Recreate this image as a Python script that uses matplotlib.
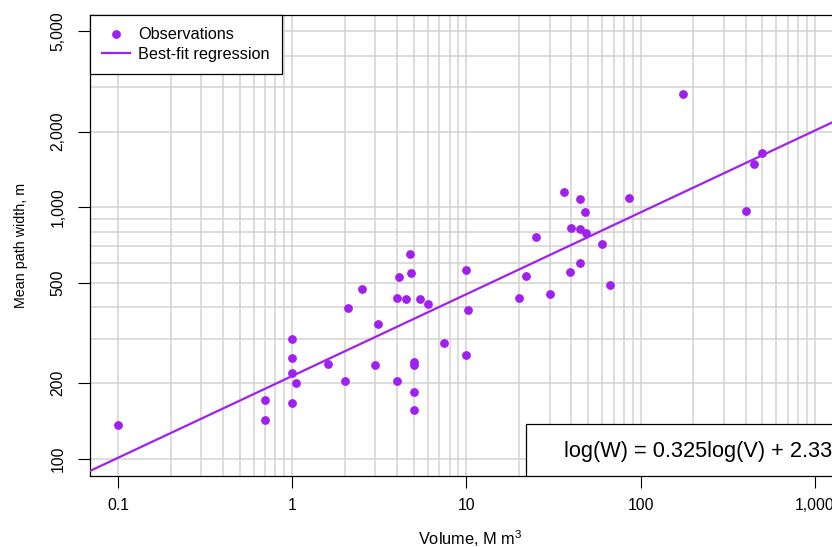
import numpy as np
import matplotlib.pyplot as plt
from matplotlib.ticker import FixedLocator, NullFormatter
from matplotlib.patches import Rectangle

plt.rcParams['font.family'] = ['Liberation Sans', 'DejaVu Sans']
plt.rcParams['mathtext.fontset'] = 'custom'
plt.rcParams['mathtext.rm'] = 'Liberation Sans'

# observations: volume (M m3) and mean path width (m)
volume = [0.1, 0.7, 0.7, 1.0, 1.0, 1.0, 1.05, 1.0, 1.6, 2.1,
          2.0, 2.5, 3.1, 3.0, 4.0, 4.0, 4.5, 4.1, 4.77, 4.8,
          5.0, 5.0, 5.0, 5.0, 5.4, 6.0, 7.4, 10.0, 10.24, 10.0,
          20.0, 22.0, 25.0, 30.0, 36.4, 39.3, 40.0, 45.0, 45.0, 45.0,
          48.0, 48.7, 60.0, 67.0, 86.0, 176.0, 400.0, 450.0, 500.0]
width = [136, 172, 143, 301, 251, 220, 200, 167, 239, 397,
         204, 474, 345, 236, 436, 205, 433, 527, 652, 549,
         242, 237, 184, 157, 433, 414, 288, 562, 390, 258,
         437, 534, 763, 453, 1155, 552, 825, 1076, 823, 599,
         960, 789, 718, 493, 1089, 2812, 965, 1486, 1639]

# fitted relation log(W) = slope*log(V) + intercept
slope = 0.325
intercept = 2.33
equation = "log(W) = 0.325log(V) + 2.33"

x_ticks = [0.1, 1, 10, 100, 1000]
x_tick_labels = ["0.1", "1", "10", "100", "1,000"]
y_ticks = [100, 200, 500, 1000, 2000, 5000]
y_tick_labels = ["100", "200", "500", "1,000", "2,000", "5,000"]
x_grid = [m * 10.0 ** e for e in range(-1, 3) for m in range(1, 10)] + [1000]
y_grid = [m * 10.0 ** e for e in range(2, 4) for m in range(1, 10)]

purple = "#A020F0"

fig = plt.figure(figsize=(8.32, 5.47), dpi=100)
ax = fig.add_axes([90 / 832, 71.3 / 547, 760 / 832, 460.7 / 547])

ax.set_xscale("log")
ax.set_yscale("log")
ax.set_xlim(0.069, 1591)
ax.set_ylim(85.85, 5808)

ax.xaxis.set_major_locator(FixedLocator(x_ticks))
ax.xaxis.set_minor_locator(FixedLocator(x_grid))
ax.yaxis.set_major_locator(FixedLocator(y_ticks))
ax.yaxis.set_minor_locator(FixedLocator(y_grid))
ax.set_xticklabels(x_tick_labels)
ax.set_yticklabels(y_tick_labels, rotation=90, va="center")
ax.xaxis.set_minor_formatter(NullFormatter())
ax.yaxis.set_minor_formatter(NullFormatter())

ax.tick_params(which="major", length=8.6, width=0.8, labelsize=11.3, color="black")
ax.tick_params(axis="x", which="major", pad=7.2)
ax.tick_params(axis="y", which="major", pad=9.0)
ax.tick_params(which="minor", length=0)

ax.set_axisbelow(True)
ax.grid(which="both", color="#d3d3d3", linewidth=1.1)
for s in ax.spines.values():
    s.set_color("black")
    s.set_linewidth(0.9)

ax.plot(volume, width, "o", color=purple, markersize=5.3, label="Observations", zorder=3)
ax.axline((1, 10 ** intercept), (10, 10 ** (intercept + slope)), color=purple,
          linewidth=1.6, label="Best-fit regression", zorder=3)

ax.set_xlabel("Volume, M m$^3$", fontsize=11.8, labelpad=11)
ax.set_ylabel("Mean path width, m", fontsize=10.3, labelpad=16)

leg = ax.legend(loc="upper left", bbox_to_anchor=(0, 1), borderaxespad=0,
                fontsize=11.7, fancybox=False, framealpha=1, edgecolor="black",
                borderpad=0.75, labelspacing=0.28, handlelength=1.7, handletextpad=0.5)
leg.get_frame().set_linewidth(0.9)
leg.set_zorder(5)

box = Rectangle((0.5737, 0), 1 - 0.5737, 0.1122, transform=ax.transAxes,
                facecolor="white", edgecolor="black", linewidth=0.9, zorder=4)
ax.add_patch(box)
ax.text(0.6237, 0.0536, equation, transform=ax.transAxes, fontsize=15.7,
        ha="left", va="center", zorder=5)

fig.savefig("out.png", dpi=100)
